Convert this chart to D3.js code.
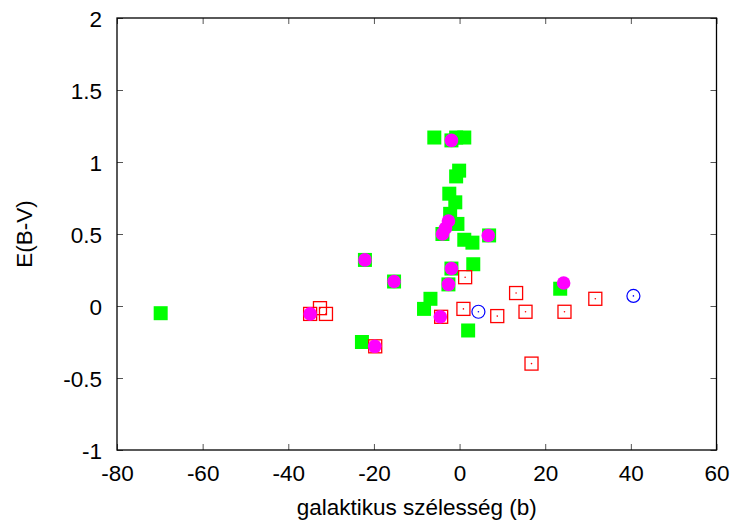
<!DOCTYPE html>
<html>
<head>
<meta charset="utf-8">
<script src="https://cdn.jsdelivr.net/npm/d3@7"></script>
<style>
  html, body { margin: 0; padding: 0; background: #fff; }
  svg { display: block; }
  text { font-family: "Liberation Sans", Arial, sans-serif; fill: #000; }
</style>
</head>
<body>
<svg id="chart" width="737" height="527"></svg>
<script>
// ---- data (galactic latitude b, E(B-V)) ----
const greenB = [-69.8, -5.9, -1.9, -0.8, 1.1, -0.1, -0.8, -2.4, -1.0, -2.2, -0.5, -4.0, 1.1, 3.0, 6.9, 3.2, -1.9, -2.6, -6.8, -8.3, 2.0, -22.1, -15.3, -22.8, 23.5];
const greenE = [-0.05, 1.17, 1.15, 1.17, 1.17, 0.94, 0.90, 0.78, 0.72, 0.64, 0.57, 0.50, 0.46, 0.44, 0.49, 0.29, 0.26, 0.15, 0.05, -0.02, -0.17, 0.32, 0.17, -0.25, 0.12];

const redB = [-34.9, -32.6, -31.2, -19.7, -4.3, 0.9, 1.3, 8.8, 13.2, 15.4, 16.8, 24.5, 31.7];
const redE = [-0.055, -0.015, -0.055, -0.28, -0.075, -0.02, 0.20, -0.07, 0.09, -0.04, -0.40, -0.04, 0.05];

const magB = [-1.9, -2.6, -3.3, -4.0, 6.7, -1.9, -2.6, -22.1, -15.3, -34.9, -19.8, -4.5, 24.3];
const magE = [1.15, 0.59, 0.54, 0.50, 0.49, 0.26, 0.15, 0.32, 0.17, -0.055, -0.28, -0.075, 0.16];

const blueB = [4.4, 40.6];
const blueE = [-0.04, 0.07];

const xTicks = [-80, -60, -40, -20, 0, 20, 40, 60];
const yTicks = [-1, -0.5, 0, 0.5, 1, 1.5, 2];
const xLabel = "galaktikus szélesség (b)";
const yLabel = "E(B-V)";

// ---- layout ----
const svg = d3.select("#chart");
const L = 117, R = 716.5, T = 18, B = 450;
const x = d3.scaleLinear().domain([-80, 60]).range([L, R]);
const y = d3.scaleLinear().domain([-1, 2]).range([B, T]);
const tickLen = 6;
const fontSize = 22.5;
const fmt = d => String(d); // plain hyphen minus, as in the original

const zip = (a, b) => a.map((v, i) => [v, b[i]]);

// axes (ticks inward, mirrored)
const gB = svg.append("g").attr("transform", `translate(0,${B})`)
  .call(d3.axisBottom(x).tickValues(xTicks).tickSizeInner(-tickLen).tickSizeOuter(0).tickFormat(fmt));
const gT = svg.append("g").attr("transform", `translate(0,${T})`)
  .call(d3.axisTop(x).tickValues(xTicks).tickSizeInner(-tickLen).tickSizeOuter(0).tickFormat(""));
const gL = svg.append("g").attr("transform", `translate(${L},0)`)
  .call(d3.axisLeft(y).tickValues(yTicks).tickSizeInner(-tickLen).tickSizeOuter(0).tickFormat(fmt));
const gR = svg.append("g").attr("transform", `translate(${R},0)`)
  .call(d3.axisRight(y).tickValues(yTicks).tickSizeInner(-tickLen).tickSizeOuter(0).tickFormat(""));

[gB, gT, gL, gR].forEach(g => {
  g.select(".domain").remove();
  g.selectAll(".tick line").attr("stroke", "#555").attr("stroke-width", 1);
  g.selectAll(".tick text").attr("font-size", fontSize).attr("font-family", "Liberation Sans, Arial, sans-serif").attr("fill", "#000");
});
gL.selectAll(".tick text").attr("x", -15).attr("dy", "0.36em");
gB.selectAll(".tick text").attr("y", 31).attr("dy", 0);

// frame
svg.append("rect").attr("x", L).attr("y", T).attr("width", R - L).attr("height", B - T)
  .attr("fill", "none").attr("stroke", "#000").attr("stroke-width", 1.3);

// axis labels
svg.append("text").attr("x", (L + R) / 2).attr("y", 515).attr("text-anchor", "middle")
  .attr("font-size", fontSize).text(xLabel);
svg.append("text").attr("transform", `translate(32,${(T + B) / 2}) rotate(-90)`)
  .attr("text-anchor", "middle").attr("font-size", fontSize).text(yLabel);

// ---- marks ----
const sq = 14, half = sq / 2;
const plot = svg.append("g");

// green filled squares
plot.append("g").selectAll("rect").data(zip(greenB, greenE)).join("rect")
  .attr("x", d => x(d[0]) - half).attr("y", d => y(d[1]) - half)
  .attr("width", sq).attr("height", sq).attr("fill", "#00ff00");

// red open squares with centre dot
const rg = plot.append("g").selectAll("g").data(zip(redB, redE)).join("g");
rg.append("rect")
  .attr("x", d => x(d[0]) - half + 0.5).attr("y", d => y(d[1]) - half + 0.5)
  .attr("width", sq - 1).attr("height", sq - 1)
  .attr("fill", "none").attr("stroke", "#ff0000").attr("stroke-width", 1.3);
rg.append("circle").attr("cx", d => x(d[0])).attr("cy", d => y(d[1])).attr("r", 0.8).attr("fill", "#ff0000");

// magenta filled circles
plot.append("g").selectAll("circle").data(zip(magB, magE)).join("circle")
  .attr("cx", d => x(d[0])).attr("cy", d => y(d[1])).attr("r", 6.8).attr("fill", "#ff00ff");

// blue open circles with centre dot
const bg = plot.append("g").selectAll("g").data(zip(blueB, blueE)).join("g");
bg.append("circle").attr("cx", d => x(d[0])).attr("cy", d => y(d[1])).attr("r", 6.5)
  .attr("fill", "none").attr("stroke", "#0000ff").attr("stroke-width", 1.2);
bg.append("circle").attr("cx", d => x(d[0])).attr("cy", d => y(d[1])).attr("r", 0.8).attr("fill", "#0000ff");
</script>
</body>
</html>
